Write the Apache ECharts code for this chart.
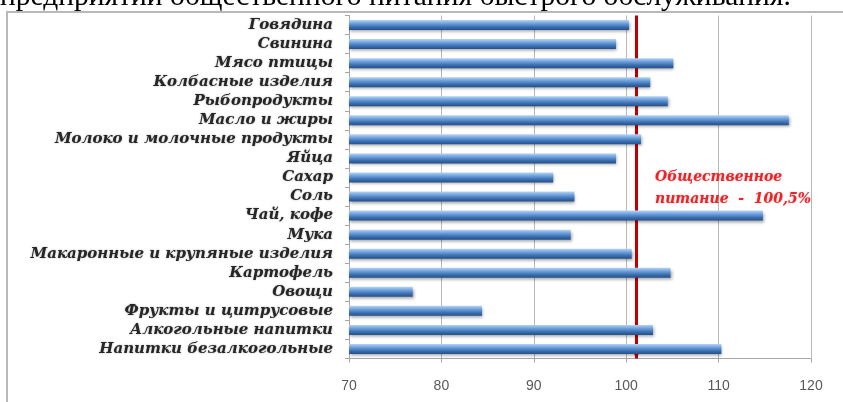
<!DOCTYPE html>
<html>
<head>
<meta charset="utf-8">
<script src="https://cdn.jsdelivr.net/npm/echarts@6/dist/echarts.min.js"></script>
<style>html,body{margin:0;padding:0;background:#fff;}#c{width:843px;height:402px;}</style>
</head>
<body>
<div id="c"></div>
<script>
const categories = [
  'Говядина', 'Свинина', 'Мясо птицы', 'Колбасные изделия', 'Рыбопродукты',
  'Масло и жиры', 'Молоко и молочные продукты', 'Яйца', 'Сахар', 'Соль',
  'Чай, кофе', 'Мука', 'Макаронные и крупяные изделия', 'Картофель', 'Овощи',
  'Фрукты и цитрусовые', 'Алкогольные напитки', 'Напитки безалкогольные'
];
const values = [100.3, 98.9, 105.1, 102.6, 104.5, 117.6, 101.6, 98.9, 92.1, 94.4,
  114.8, 94.0, 100.6, 104.8, 76.9, 84.4, 102.9, 110.3];
const referenceValue = 101.1;
const referenceLabel = ['Общественное', 'питание  -  100,5%'];
const xTicks = { min: 70, max: 120, interval: 10 };
const headerText = 'предприятий общественного питания быстрого обслуживания.';

const chart = echarts.init(document.getElementById('c'), null, { renderer: 'canvas' });
const serif = '"DejaVu Serif", "Liberation Serif", serif';

chart.setOption({
  backgroundColor: '#fff',
  animation: false,
  graphic: [
    { type: 'text', left: 0, top: -18, z: 0,
      style: { text: headerText, font: '29.5px "Liberation Serif", serif', fill: '#000' } },
    { type: 'rect', shape: { x: 7, y: 12, width: 850, height: 400 }, z: 1,
      style: { fill: '#fff', stroke: '#b9b9b9', lineWidth: 2 } },
    { type: 'text', left: 655, top: 166, z: 20,
      style: { text: referenceLabel.join('\n'), fill: '#e8262a',
        font: 'italic bold 14px ' + serif, lineHeight: 22,
        textShadowColor: 'rgba(232,38,42,0.35)', textShadowBlur: 2 } }
  ],
  grid: { left: 349, right: 32, top: 15.5, bottom: 43.5, containLabel: false, z: 5 },
  xAxis: {
    type: 'value', min: xTicks.min, max: xTicks.max, interval: xTicks.interval, z: 3,
    axisLine: { show: true, lineStyle: { color: '#a6a6a6', width: 1 } },
    axisTick: { show: true, length: 4, lineStyle: { color: '#a6a6a6' } },
    splitLine: { show: true, lineStyle: { color: '#b8b8b8', width: 1 } },
    axisLabel: { color: '#595959', fontSize: 14, margin: 21, fontFamily: '"Liberation Sans", sans-serif' }
  },
  yAxis: {
    type: 'category', data: categories, inverse: true, z: 3,
    axisLine: { show: true, lineStyle: { color: '#a6a6a6' } },
    axisTick: { show: true, length: 4, lineStyle: { color: '#a6a6a6' } },
    axisLabel: { color: '#262626', fontSize: 15, fontWeight: 'bold', fontStyle: 'italic',
      fontFamily: serif, margin: 16, interval: 0, hideOverlap: false,
      textShadowColor: 'rgba(0,0,0,0.35)', textShadowBlur: 2 }
  },
  series: [{
    type: 'bar', data: values, barWidth: 10, z: 6,
    itemStyle: {
      color: new echarts.graphic.LinearGradient(0, 0, 0, 1, [
        { offset: 0, color: '#b7d4f3' },
        { offset: 0.35, color: '#6c9fdc' },
        { offset: 0.7, color: '#3b6eae' },
        { offset: 1, color: '#24508a' }
      ]),
      shadowColor: 'rgba(0,0,0,0.35)', shadowBlur: 3, shadowOffsetY: 2, shadowOffsetX: 1
    },
    markLine: {
      silent: true, symbol: ['none', 'arrow'], symbolSize: [9, 12],
      label: { show: false },
      lineStyle: { color: '#c00000', width: 3, type: 'solid' },
      data: [{ xAxis: referenceValue }]
    }
  }]
});
</script>
</body>
</html>
